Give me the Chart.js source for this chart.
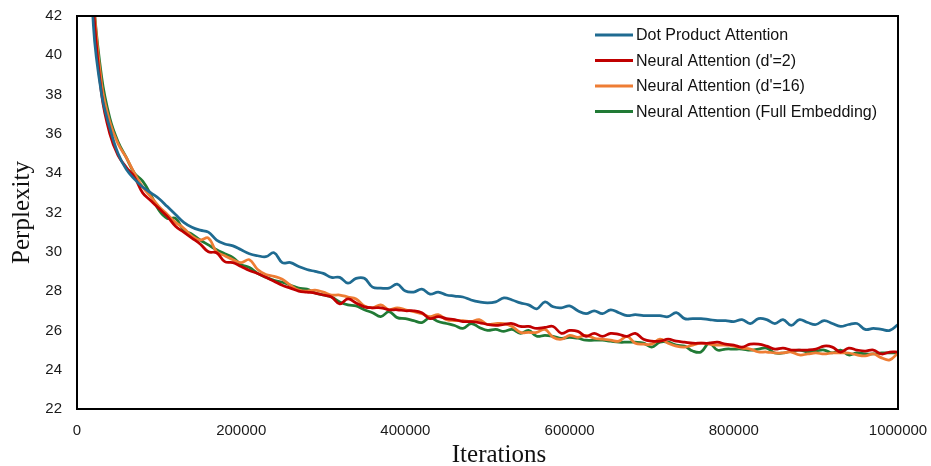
<!DOCTYPE html>
<html>
<head>
<meta charset="utf-8">
<script src="https://cdn.jsdelivr.net/npm/chart.js@4.4.1/dist/chart.umd.min.js"></script>
<style>
  html, body { margin: 0; padding: 0; background: #fff; }
  #wrap { width: 931px; height: 466px; position: relative; }
</style>
</head>
<body>
<div id="wrap"><canvas id="perplexityChart"></canvas></div>
<script>
// Iteraciones (eje x)
const iterations = [
  10000, 20000, 30000, 40000, 50000, 60000, 70000, 80000, 90000, 100000,
  110000, 120000, 130000, 140000, 150000, 160000, 170000, 180000, 190000, 200000,
  210000, 220000, 230000, 240000, 250000, 260000, 270000, 280000, 290000, 300000,
  310000, 320000, 330000, 340000, 350000, 360000, 370000, 380000, 390000, 400000,
  410000, 420000, 430000, 440000, 450000, 460000, 470000, 480000, 490000, 500000,
  510000, 520000, 530000, 540000, 550000, 560000, 570000, 580000, 590000, 600000,
  610000, 620000, 630000, 640000, 650000, 660000, 670000, 680000, 690000, 700000,
  710000, 720000, 730000, 740000, 750000, 760000, 770000, 780000, 790000, 800000,
  810000, 820000, 830000, 840000, 850000, 860000, 870000, 880000, 890000, 900000,
  910000, 920000, 930000, 940000, 950000, 960000, 970000, 980000, 990000, 1000000
];

const seriesNames = [
  'Dot Product Attention',
  "Neural Attention (d'=2)",
  "Neural Attention (d'=16)",
  'Neural Attention (Full Embedding)'
];

const dotProduct = [
  52, 41.5, 38.0, 36.3, 35.0, 34.2, 33.7, 33.3, 33.0, 32.7,
  32.3, 31.9, 31.5, 31.25, 31.1, 31.0, 30.6, 30.4, 30.3, 30.1,
  29.9, 29.8, 29.75, 29.95, 29.45, 29.45, 29.25, 29.1, 29.0, 28.9,
  28.7, 28.7, 28.4, 28.65, 28.65, 28.2, 28.15, 28.15, 28.35, 28.0,
  27.95, 28.1, 27.85, 27.95, 27.8, 27.75, 27.7, 27.55, 27.45, 27.4,
  27.45, 27.65, 27.55, 27.4, 27.3, 27.1, 27.45, 27.2, 27.15, 27.25,
  27.0, 26.85, 27.0, 26.85, 27.05, 26.9, 26.75, 26.8, 26.75, 26.75,
  26.75, 26.7, 26.9, 26.6, 26.6, 26.6, 26.55, 26.5, 26.5, 26.45,
  26.55, 26.35, 26.6, 26.55, 26.35, 26.55, 26.25, 26.55, 26.4, 26.3,
  26.5, 26.35, 26.2, 26.3, 26.35, 26.05, 26.1, 26.05, 26.0, 26.3
];

const neuralD2 = [
  51, 42.5, 38.0, 36.0, 34.9, 34.3, 33.8, 33.0, 32.6, 32.2,
  31.8, 31.3, 31.0, 30.7, 30.4, 30.0, 29.95, 29.5, 29.45, 29.25,
  29.05, 28.9, 28.7, 28.5, 28.3, 28.15, 28.0, 27.95, 27.9, 27.8,
  27.7, 27.35, 27.6, 27.4, 27.2, 27.15, 27.15, 27.05, 27.05, 27.0,
  27.0, 26.9, 26.6, 26.7, 26.6, 26.55, 26.45, 26.45, 26.4, 26.3,
  26.25, 26.3, 26.35, 26.2, 26.2, 26.1, 26.15, 26.2, 25.85, 26.0,
  25.95, 25.7, 25.85, 25.7, 25.85, 25.8, 25.7, 25.85, 25.55, 25.45,
  25.45, 25.55, 25.45, 25.4, 25.35, 25.35, 25.35, 25.4, 25.3, 25.25,
  25.15, 25.3, 25.3, 25.2, 25.05, 25.1, 25.0, 25.0, 25.0, 25.05,
  25.2, 25.15, 24.9, 25.1, 25.0, 24.95, 25.0, 24.8, 24.9, 24.9
];

const neuralD16 = [
  53, 43.0, 38.5, 36.6, 35.5, 34.8, 34.0, 33.3, 32.8, 32.3,
  31.9, 31.5, 31.2, 30.8, 30.6, 30.7, 30.0, 29.8, 29.6, 29.45,
  29.6, 29.1, 28.85, 28.75, 28.6, 28.3, 28.05, 28.0, 28.05, 27.95,
  27.8, 27.8, 27.7, 27.6, 27.25, 27.15, 27.3, 27.05, 27.15, 27.05,
  26.95, 26.85, 26.7, 26.8, 26.55, 26.5, 26.5, 26.45, 26.55, 26.3,
  26.35, 26.35, 26.2, 25.9, 25.9, 25.9, 26.05, 25.65, 25.55, 25.75,
  25.65, 25.75, 25.6, 25.55, 25.5, 25.45, 25.7, 25.35, 25.3, 25.3,
  25.55, 25.35, 25.2, 25.15, 25.25, 25.35, 25.3, 25.25, 25.25, 25.2,
  25.1, 25.05, 24.9, 24.9, 24.85, 24.85, 24.9, 24.75, 24.8, 24.85,
  24.8, 24.85, 24.85, 24.85, 24.75, 24.7, 24.8, 24.6, 24.5, 24.85
];

const neuralFull = [
  53, 43.0, 38.9, 36.8, 35.6, 34.8, 34.0, 33.6, 32.9, 32.1,
  31.7, 31.7, 31.1, 30.9, 30.6, 30.35, 30.1, 29.9, 29.7, 29.35,
  29.2, 28.9, 28.7, 28.55, 28.45, 28.3, 28.15, 28.1, 27.9, 27.8,
  27.7, 27.45, 27.3, 27.25, 27.05, 26.9, 26.7, 26.95, 26.65, 26.6,
  26.5, 26.4, 26.65, 26.45, 26.35, 26.25, 26.1, 26.35, 26.15, 26.0,
  26.05, 25.95, 26.05, 25.85, 26.0, 25.7, 25.75, 25.7, 25.6, 25.65,
  25.6, 25.5, 25.5, 25.5, 25.45, 25.4, 25.4, 25.4, 25.35, 25.15,
  25.4, 25.4, 25.25, 25.2, 24.95, 24.9, 25.35, 25.0, 25.05, 25.05,
  25.05, 25.0, 25.05, 25.1, 24.85, 24.85, 24.95, 25.0, 24.9, 24.95,
  25.0, 24.85, 25.0, 24.75, 24.85, 24.8, 24.8, 24.85, 24.85, 24.85
];

const yTicks = [22, 24, 26, 28, 30, 32, 34, 36, 38, 40, 42];
const xTicks = [0, 200000, 400000, 600000, 800000, 1000000];

const colors = ['#1f6b91', '#c00000', '#ee7d34', '#217a35'];
const allSeries = [dotProduct, neuralD2, neuralD16, neuralFull];

const toPoints = vals => iterations.map((x, i) => ({ x: x, y: vals[i] }));

// Marco negro, título del eje x y leyenda dentro del área del gráfico
const boxAndLegend = {
  id: 'boxAndLegend',
  afterDraw(chart) {
    const { ctx, chartArea } = chart;
    ctx.save();
    ctx.strokeStyle = '#000';
    ctx.lineWidth = 2;
    ctx.strokeRect(chartArea.left, chartArea.top, chartArea.right - chartArea.left, chartArea.bottom - chartArea.top);

    ctx.fillStyle = '#111';
    ctx.textAlign = 'center';
    ctx.textBaseline = 'middle';
    ctx.font = '25px "Liberation Serif", "Times New Roman", serif';
    ctx.fillText('Iterations', 499, 455);

    ctx.textAlign = 'left';
    ctx.font = '16px "Liberation Sans", Arial, sans-serif';
    chart.data.datasets.forEach((ds, i) => {
      const y = 35 + i * 25.5;
      ctx.strokeStyle = ds.borderColor;
      ctx.lineWidth = 3;
      ctx.beginPath();
      ctx.moveTo(595, y);
      ctx.lineTo(633, y);
      ctx.stroke();
      ctx.fillText(ds.label, 636, y + 1);
    });
    ctx.restore();
  }
};

const ctx = document.getElementById('perplexityChart').getContext('2d');
new Chart(ctx, {
  type: 'line',
  data: {
    datasets: allSeries.map((vals, i) => ({
      label: seriesNames[i],
      data: toPoints(vals),
      borderColor: colors[i],
      backgroundColor: colors[i],
      borderWidth: 2.75,
      pointRadius: 0,
      tension: 0.4,
      fill: false
    }))
  },
  options: {
    responsive: true,
    maintainAspectRatio: false,
    animation: false,
    layout: { padding: { top: 16, right: 33, left: 0, bottom: 0 } },
    plugins: {
      legend: { display: false },
      tooltip: { enabled: false }
    },
    scales: {
      x: {
        type: 'linear',
        min: 0,
        max: 1000000,
        afterBuildTicks: scale => { scale.ticks = xTicks.map(v => ({ value: v })); },
        afterFit: scale => {
          scale.height = 57;
          scale.paddingLeft = 0;
          scale.paddingRight = 0;
        },
        grid: { display: false, drawTicks: false },
        border: { display: false },
        ticks: {
          padding: 13,
          maxRotation: 0,
          color: '#1a1a1a',
          font: { family: '"Liberation Sans", Arial, sans-serif', size: 15 },
          callback: v => String(v)
        }
      },
      y: {
        min: 22,
        max: 42,
        afterBuildTicks: scale => { scale.ticks = yTicks.map(v => ({ value: v })); },
        afterFit: scale => {
          scale.width = 77;
          scale.paddingTop = 0;
          scale.paddingBottom = 0;
        },
        grid: { display: false, drawTicks: false },
        border: { display: false },
        ticks: {
          padding: 15,
          color: '#1a1a1a',
          font: { family: '"Liberation Sans", Arial, sans-serif', size: 15 }
        },
        title: {
          display: true,
          text: 'Perplexity',
          color: '#111',
          font: { family: '"Liberation Serif", "Times New Roman", serif', size: 25, lineHeight: 1 },
          padding: { top: 10, bottom: 0 }
        }
      }
    }
  },
  plugins: [boxAndLegend]
});
</script>
</body>
</html>
